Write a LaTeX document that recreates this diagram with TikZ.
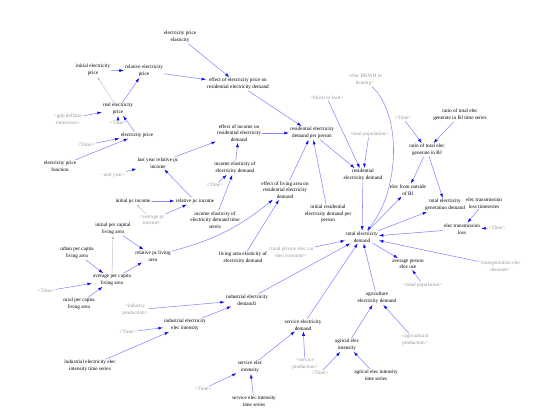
\documentclass[tikz,border=0pt]{standalone}
\usepackage{fontspec}
\setmainfont{Liberation Serif}
\usetikzlibrary{arrows.meta}
\definecolor{linkblue}{RGB}{135,135,255}
\definecolor{tipblue}{RGB}{15,15,235}
\definecolor{ghostgray}{RGB}{150,150,150}
\begin{document}
\begin{tikzpicture}[x=1pt,y=-1pt,line cap=round,
  var/.style={align=center,inner sep=1pt,font=\fontsize{5.2}{6.6}\selectfont},
  ghost/.style={var,text=ghostgray},
  link/.style={draw=linkblue,line width=.55pt,-{Latex[length=4.5pt,width=3pt,color=tipblue]}},
  initlink/.style={draw=black!22,line width=.5pt,-{Latex[length=3pt,width=2pt,color=black!30]}}]
 \useasboundingbox (0,0) rectangle (539,413);
 % price block
 \node[var] (epelast) at (180,37) {electricity price\\elasticity};
 \node[var] (initep) at (93,70) {initial electricity\\price};
 \node[var] (relep) at (144,71) {relative electricity\\price};
 \node[var] (effep) at (238,84) {effect of electricity price on\\residential electricity demand};
 \node[var] (realep) at (118,109) {real electricity\\price};
 \node[ghost] (gdpdef) at (68,119) {<gdp deflator\\timeseries>};
 \node[ghost] (time1) at (118,123) {<Time>};
 \node[var] (ep) at (137,135) {electricity price};
 \node[ghost] (time2) at (86,145) {<Time>};
 \node[var] (epfun) at (60,166) {electricity price\\function};
 % income block
 \node[var] (lyrpc) at (158,163) {last year relative pc\\income};
 \node[ghost] (unityr) at (113,175) {<unit year>};
 \node[var] (effinc) at (239,133) {effect of income on\\residential electricity\\demand};
 \node[var] (rdpp) at (312,133) {residential electricity\\demand per person};
 \node[var] (incel) at (235,168) {income elasticity of\\electricity demand};
 \node[ghost] (time3) at (215,185) {<Time>};
 \node[var] (initpc) at (133,201) {initial pc income};
 \node[var] (relpc) at (195,201) {relative pc income};
 \node[ghost] (avgpc) at (152,220) {<average pc\\income>};
 \node[var] (incelts) at (215,220) {income elasticity of\\electricity demand time\\sereis};
 % living area block
 \node[var] (efflia) at (285,190) {effect of living area on\\residential electricity\\demand};
 \node[var] (initrd) at (328,214) {initial residential\\electricity demand per\\person};
 \node[var] (initla) at (113,229) {initial per capital\\living area};
 \node[var] (urbanla) at (77,253) {urban per captia\\living area};
 \node[var] (rella) at (153,256) {relative pc living\\area};
 \node[var] (avgla) at (112,280) {average per capita\\living area};
 \node[ghost] (time9) at (46,291) {<Time>};
 \node[var] (rurla) at (79,304) {rural per captia\\living area};
 \node[var] (liael) at (243,258) {living area elasticity of\\electricity demand};
 \node[ghost] (car) at (291,252) {<total private elec car\\elec consume>};
 % residential and total
 \node[var] (resd) at (363,175) {residential\\electricity demand};
 \node[ghost] (bkwh) at (327,98) {<bkwh to kwh>};
 \node[ghost] (totpop1) at (369,134) {<total population>};
 \node[ghost] (heat) at (365,80) {<elec BKWH in\\heating>};
 \node[var] (totd) at (362,237) {total electricity\\demand};
 % generation block
 \node[ghost] (time4) at (403,118) {<Time>};
 \node[var] (ratiots) at (460,115) {ratio of total elec\\generate in BJ time series};
 \node[var] (ratio) at (427,150) {ratio of total elec\\generate in BJ};
 \node[var] (outbj) at (408,190) {elec from outside\\of BJ};
 \node[var] (totgen) at (445,205) {total electricity\\generation demand};
 \node[var] (lossts) at (484,203) {elec transmission\\loss timeseries};
 \node[var] (loss) at (462,229) {elec transmission\\loss};
 \node[ghost] (time5) at (497,228) {<Time>};
 \node[var] (avgpe) at (408,264) {average person\\elec use};
 \node[ghost] (totpop2) at (423,285) {<total population>};
 \node[ghost] (trans) at (500,266) {<transportation elec\\demand>};
 % sectors
 \node[var] (agrd) at (377,298) {agriculture\\electricity demand};
 \node[ghost] (agrprod) at (415,340) {<agricultural\\production>};
 \node[var] (agrint) at (347,345) {agricul elec\\intensity};
 \node[var] (agrts) at (376,375) {agricul elec intensity\\time series};
 \node[ghost] (time6) at (320,373) {<Time>};
 \node[var] (serd) at (303,325) {service electricity\\demand};
 \node[ghost] (serprod) at (305,364) {<service\\production>};
 \node[var] (serint) at (250,367) {service elec\\intensity};
 \node[ghost] (time7) at (203,389) {<Time>};
 \node[var] (serts) at (254,401) {service elec intensity\\time series};
 \node[var] (indd) at (247,300) {industrial electricity\\demand1};
 \node[ghost] (indprod) at (135,310) {<industry\\production>};
 \node[var] (indint) at (185,325) {industrial electricity\\elec intensity};
 \node[ghost] (time8) at (128,332) {<Time>};
 \node[var] (indts) at (90,366) {industrial electricity elec\\intensity time series};
 % links
 \draw[link] (initep) -- (relep);
 \draw[link] (realep) -- (relep);
 \draw[initlink] (realep) -- (initep);
 \draw[link] (relep) -- (effep);
 \draw[link] (epelast) -- (effep);
 \draw[link] (effep) -- (rdpp);
 \draw[link] (gdpdef) -- (realep);
 \draw[link] (time1) -- (realep);
 \draw[link] (ep) -- (realep);
 \draw[link] (time2) -- (ep);
 \draw[link] (epfun) -- (ep);
 \draw[link] (unityr) -- (lyrpc);
 \draw[link] (relpc) -- (lyrpc);
 \draw[link] (lyrpc) -- (effinc);
 \draw[link] (effinc) -- (rdpp);
 \draw[link] (incel) -- (effinc);
 \draw[link] (time3) -- (incel);
 \draw[link] (incelts) -- (incel);
 \draw[link] (initpc) -- (relpc);
 \draw[link] (avgpc) -- (relpc);
 \draw[initlink] (avgpc) -- (initpc);
 \draw[link] (efflia) -- (rdpp);
 \draw[link] (initrd) -- (rdpp);
 \draw[link] (rdpp) -- (resd);
 \draw[link] (bkwh) -- (resd);
 \draw[link] (totpop1) -- (resd);
 \draw[link] (resd) -- (totd);
 \draw[link] (heat) .. controls (402,115) and (400,190) .. (totd);
 \draw[link] (rella) to[bend right=12] (efflia);
 \draw[link] (liael) -- (efflia);
 \draw[link] (initla) -- (rella);
 \draw[link] (avgla) -- (rella);
 \draw[initlink] (avgla) -- (initla);
 \draw[link] (urbanla) -- (avgla);
 \draw[link] (rurla) -- (avgla);
 \draw[link] (time9) -- (avgla);
 \draw[link] (time4) -- (ratio);
 \draw[link] (ratiots) -- (ratio);
 \draw[link] (ratio) -- (outbj);
 \draw[link] (ratio) -- (totgen);
 \draw[link] (totd) -- (outbj);
 \draw[link] (totd) -- (totgen);
 \draw[link] (lossts) -- (loss);
 \draw[link] (time5) -- (loss);
 \draw[link] (loss) -- (totd);
 \draw[link] (trans) -- (totd);
 \draw[link] (totd) -- (avgpe);
 \draw[link] (totpop2) -- (avgpe);
 \draw[link] (car) -- (totd);
 \draw[link] (agrd) -- (totd);
 \draw[link] (agrprod) -- (agrd);
 \draw[link] (agrint) -- (agrd);
 \draw[link] (time6) -- (agrint);
 \draw[link] (agrts) -- (agrint);
 \draw[link] (serd) -- (totd);
 \draw[link] (serprod) -- (serd);
 \draw[link] (serint) -- (serd);
 \draw[link] (time7) -- (serint);
 \draw[link] (serts) -- (serint);
 \draw[link] (indd) -- (totd);
 \draw[link] (indprod) -- (indd);
 \draw[link] (indint) -- (indd);
 \draw[link] (time8) -- (indint);
 \draw[link] (indts) -- (indint);
\end{tikzpicture}
\end{document}
